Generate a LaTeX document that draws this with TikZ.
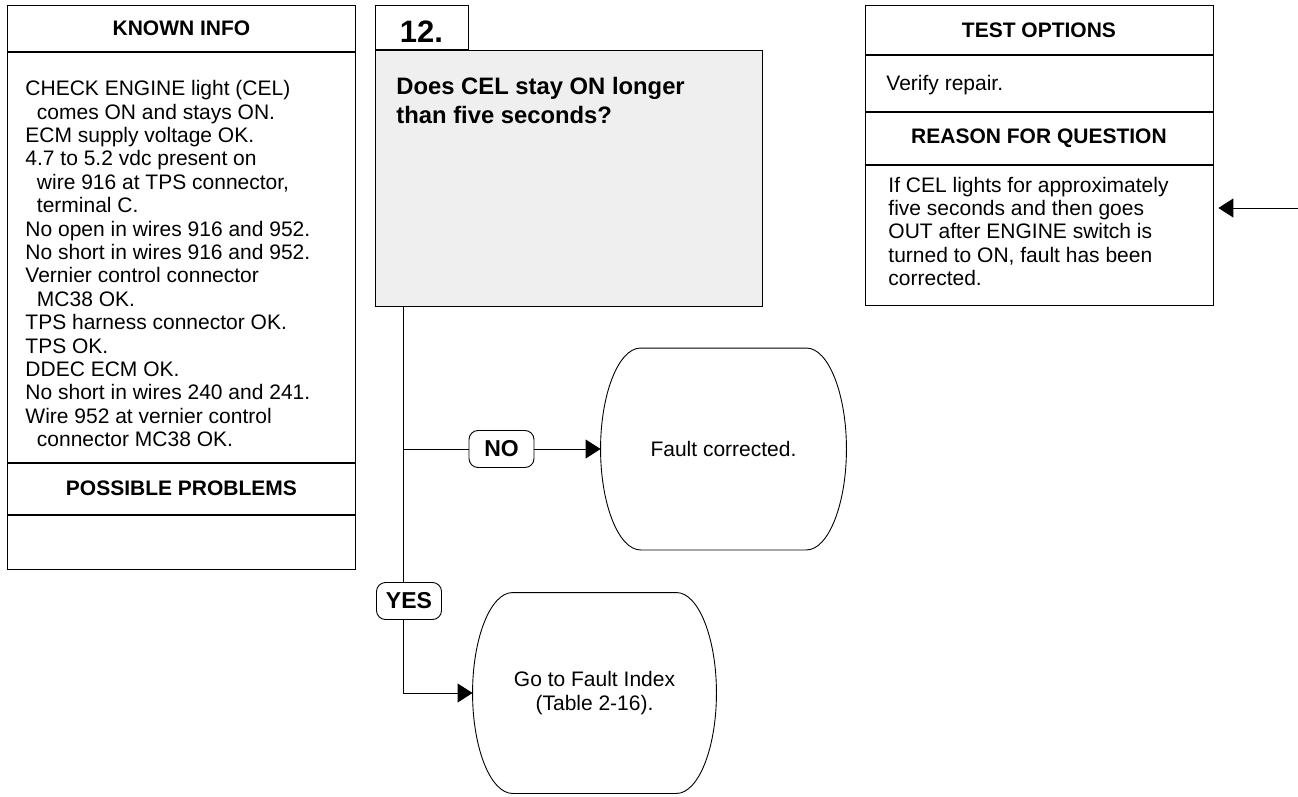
\documentclass[tikz,border=0pt]{standalone}
\usepackage{fontspec}
\setmainfont{Liberation Sans}
\usetikzlibrary{positioning, arrows.meta, calc}
\definecolor{qgray}{HTML}{EFEFEF}
\newcommand{\ind}{\hspace*{11.5pt}}

\begin{document}
\begin{tikzpicture}[x=1pt, y=-1pt, line width=0.9pt, node distance=0pt,
  panel/.style={draw, inner sep=0pt, anchor=north west},
  hdr/.style={font=\bfseries\fontsize{21}{25}\selectfont},
  body/.style={font=\fontsize{21}{23.4}\selectfont, align=left, inner sep=0pt, anchor=north west},
  tag/.style={draw, fill=white, rounded corners=9pt, inner sep=0pt, minimum height=37pt,
    minimum width=65pt, font=\bfseries\fontsize{23}{27}\selectfont},
  endbox/.style={minimum width=245pt, minimum height=201pt, align=center, inner sep=0pt,
    font=\fontsize{21}{24}\selectfont},
  flow/.style={-{Triangle[length=15pt, width=19pt]}}]
  \useasboundingbox (0,0) rectangle (1298,797);

  % known info / possible problems column
  \node[panel, hdr, minimum width=348pt, minimum height=46pt] (known) at (7,5) {KNOWN INFO};
  \node[panel, minimum width=348pt, minimum height=410pt, below=of known] (knownbox) {};
  \node[body] (knowntxt) at (25,80) {CHECK ENGINE light (CEL)\\\ind comes ON and stays ON.\\
    ECM supply voltage OK.\\4.7 to 5.2 vdc present on\\\ind wire 916 at TPS connector,\\
    \ind terminal C.\\No open in wires 916 and 952.\\No short in wires 916 and 952.\\
    Vernier control connector\\\ind MC38 OK.\\TPS harness connector OK.\\TPS OK.\\
    DDEC ECM OK.\\No short in wires 240 and 241.\\Wire 952 at vernier control\\
    \ind connector MC38 OK.};
  \node[panel, hdr, minimum width=348pt, minimum height=51pt, below=of knownbox] (problems) {POSSIBLE PROBLEMS};
  \node[panel, minimum width=348pt, minimum height=54pt, below=of problems] (problemsbox) {};

  % question 12
  \node[panel, minimum width=93pt, minimum height=44pt] (tab) at (375,5) {};
  \node[font=\bfseries\fontsize{31}{36}\selectfont, anchor=base, inner sep=0pt] (tabnum) at (421.5,43) {12.};
  \node[panel, fill=qgray, minimum width=387pt, minimum height=256pt] (question) at (tab.south west) {};
  \node[body, font=\bfseries\fontsize{23.8}{29}\selectfont] (asktxt) at (396,77)
    {Does CEL stay ON longer\\than five seconds?};

  % answers
  \coordinate (trunk) at (403,449);
  \coordinate (bend) at (403,693);
  \node[tag] (no) at (501.5,449) {NO};
  \node[tag] (yes) at (409,601) {YES};
  \node[endbox] (fixed) at (723.5,449) {Fault corrected.};
  \node[endbox, minimum width=243pt, minimum height=200pt] (index) at (594.5,693)
    {Go to Fault Index\\(Table 2-16).};
  \foreach \n in {fixed,index}
    \draw ([xshift=40pt]\n.north west) -- ([xshift=-40pt]\n.north east)
      .. controls ([xshift=-18pt]\n.north east) and ([yshift=55pt]\n.east) .. (\n.east)
      .. controls ([yshift=-55pt]\n.east) and ([xshift=-18pt]\n.south east) .. ([xshift=-40pt]\n.south east)
      -- ([xshift=40pt]\n.south west)
      .. controls ([xshift=18pt]\n.south west) and ([yshift=-55pt]\n.west) .. (\n.west)
      .. controls ([yshift=55pt]\n.west) and ([xshift=18pt]\n.north west) .. cycle;

  \draw (question.south -| trunk) -- (trunk |- yes.north);
  \draw (trunk) -- (no.west);
  \draw[flow] (no.east) -- (fixed.west);
  \draw (trunk |- yes.south) -- (bend);
  \draw[flow] (bend) -- (index.west);

  % test options / reason column
  \node[panel, hdr, minimum width=348pt, minimum height=49pt] (tests) at (864.5,5) {TEST OPTIONS};
  \node[panel, minimum width=348pt, minimum height=56pt, below=of tests] (testsbox) {};
  \node[body, anchor=base west] (teststxt) at (886,91) {Verify repair.};
  \node[panel, hdr, minimum width=348pt, minimum height=52pt, below=of testsbox] (reason) {REASON FOR QUESTION};
  \node[panel, minimum width=348pt, minimum height=140pt, below=of reason] (reasonbox) {};
  \node[body] (reasontxt) at (888,176.5) {If CEL lights for approximately\\five seconds and then goes\\
    OUT after ENGINE switch is\\turned to ON, fault has been\\corrected.};
  \coordinate (feed) at (1298,208);
  \draw[flow, shorten >=5pt] (feed) -- (feed -| reasonbox.east);
\end{tikzpicture}
\end{document}
